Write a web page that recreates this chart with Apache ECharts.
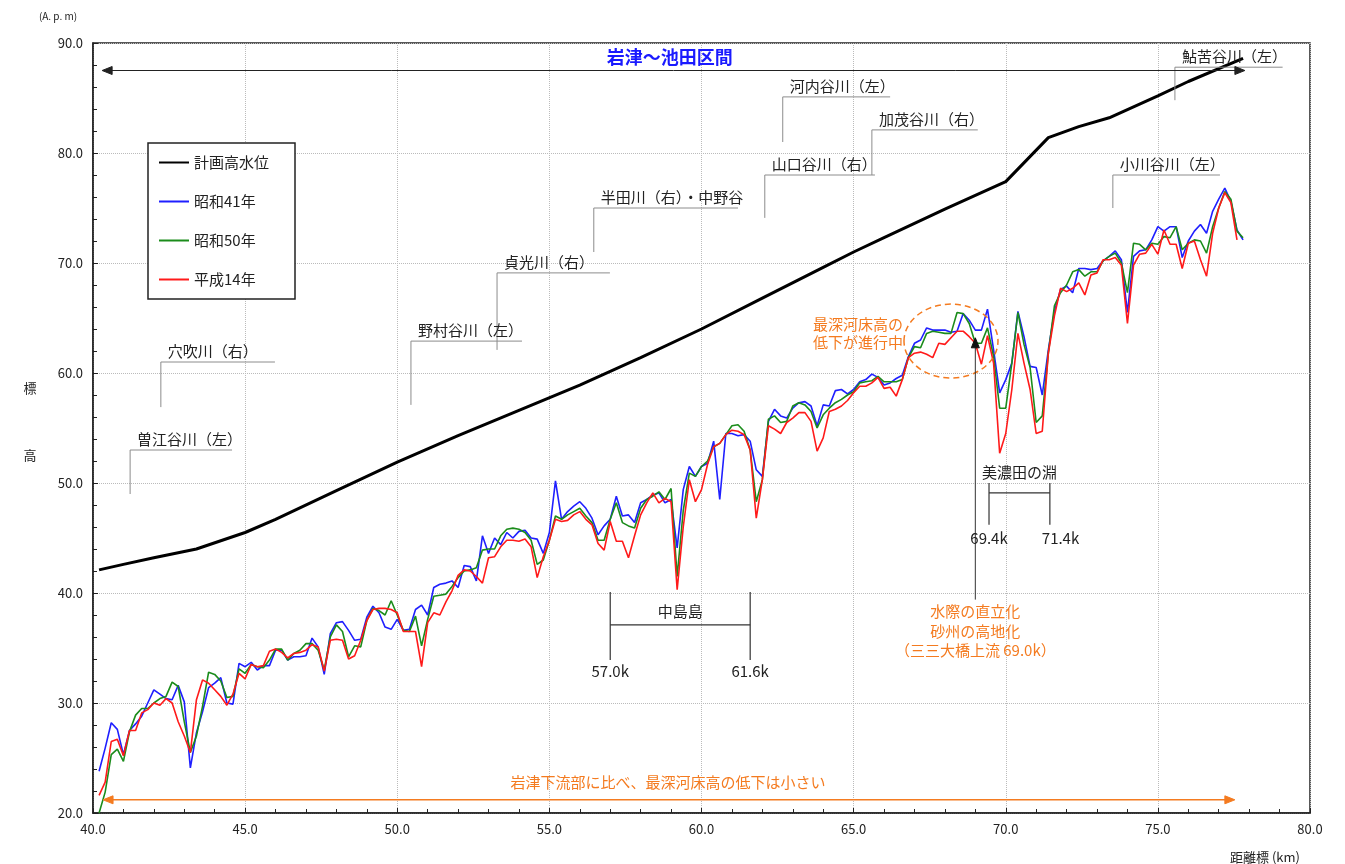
<!DOCTYPE html>
<html>
<head>
<meta charset="utf-8">
<title>岩津～池田区間 最深河床高縦断図</title>
<script src="https://cdn.jsdelivr.net/npm/echarts/dist/echarts.min.js"></script>
<style>
  html, body { margin: 0; padding: 0; background: #fff; }
  #main { width: 1345px; height: 864px; }
</style>
</head>
<body>
<div id="main"></div>
<script>
// 距離標 (km)
const distances = [
  40.2, 40.4, 40.6, 40.8, 41.0, 41.2, 41.4, 41.6, 41.8, 42.0,
  42.2, 42.4, 42.6, 42.8, 43.0, 43.2, 43.4, 43.6, 43.8, 44.0,
  44.2, 44.4, 44.6, 44.8, 45.0, 45.2, 45.4, 45.6, 45.8, 46.0,
  46.2, 46.4, 46.6, 46.8, 47.0, 47.2, 47.4, 47.6, 47.8, 48.0,
  48.2, 48.4, 48.6, 48.8, 49.0, 49.2, 49.4, 49.6, 49.8, 50.0,
  50.2, 50.4, 50.6, 50.8, 51.0, 51.2, 51.4, 51.6, 51.8, 52.0,
  52.2, 52.4, 52.6, 52.8, 53.0, 53.2, 53.4, 53.6, 53.8, 54.0,
  54.2, 54.4, 54.6, 54.8, 55.0, 55.2, 55.4, 55.6, 55.8, 56.0,
  56.2, 56.4, 56.6, 56.8, 57.0, 57.2, 57.4, 57.6, 57.8, 58.0,
  58.2, 58.4, 58.6, 58.8, 59.0, 59.2, 59.4, 59.6, 59.8, 60.0,
  60.2, 60.4, 60.6, 60.8, 61.0, 61.2, 61.4, 61.6, 61.8, 62.0,
  62.2, 62.4, 62.6, 62.8, 63.0, 63.2, 63.4, 63.6, 63.8, 64.0,
  64.2, 64.4, 64.6, 64.8, 65.0, 65.2, 65.4, 65.6, 65.8, 66.0,
  66.2, 66.4, 66.6, 66.8, 67.0, 67.2, 67.4, 67.6, 67.8, 68.0,
  68.2, 68.4, 68.6, 68.8, 69.0, 69.2, 69.4, 69.6, 69.8, 70.0,
  70.2, 70.4, 70.6, 70.8, 71.0, 71.2, 71.4, 71.6, 71.8, 72.0,
  72.2, 72.4, 72.6, 72.8, 73.0, 73.2, 73.4, 73.6, 73.8, 74.0,
  74.2, 74.4, 74.6, 74.8, 75.0, 75.2, 75.4, 75.6, 75.8, 76.0,
  76.2, 76.4, 76.6, 76.8, 77.0, 77.2, 77.4, 77.6, 77.8
];

// 昭和41年 最深河床高
const showa41 = [
  23.8, 25.9, 28.2, 27.6, 25.3, 27.5, 28.1, 28.8, 30.0, 31.2,
  30.8, 30.4, 30.3, 31.6, 30.1, 24.1, 27.3, 29.2, 31.4, 31.8,
  32.3, 30.0, 29.9, 33.6, 33.3, 33.7, 33.0, 33.4, 33.4, 34.8,
  34.8, 33.9, 34.2, 34.2, 34.3, 35.9, 35.1, 32.6, 36.3, 37.3,
  37.4, 36.6, 35.7, 35.8, 37.8, 38.8, 38.2, 36.9, 36.7, 37.6,
  36.6, 36.7, 38.5, 38.9, 38.0, 40.5, 40.8, 40.9, 41.1, 40.5,
  42.5, 42.4, 41.1, 45.2, 43.6, 45.0, 44.4, 45.5, 45.0, 45.6,
  45.7, 45.0, 44.9, 43.6, 45.5, 50.2, 46.7, 47.4, 47.9, 48.3,
  47.7, 46.8, 45.3, 46.1, 46.7, 48.8, 47.0, 47.1, 46.4, 48.2,
  48.5, 48.9, 49.1, 48.2, 48.5, 44.1, 49.4, 51.5, 50.6, 51.5,
  51.8, 53.8, 48.5, 54.5, 54.5, 54.3, 54.4, 53.8, 51.2, 50.6,
  55.6, 56.7, 56.1, 55.9, 56.8, 57.3, 57.4, 57.0, 55.2, 57.1,
  57.0, 58.4, 58.5, 58.1, 58.5, 59.2, 59.4, 59.9, 59.6, 58.9,
  59.1, 59.5, 59.8, 61.5, 62.7, 63.0, 64.1, 63.9, 63.9, 63.9,
  63.7, 63.8, 65.4, 64.8, 63.9, 63.9, 65.8, 62.1, 58.2, 59.4,
  60.9, 65.6, 63.3, 60.6, 60.5, 58.0, 62.1, 65.6, 67.6, 67.9,
  67.3, 69.5, 69.5, 69.4, 69.5, 70.2, 70.6, 71.1, 70.3, 65.5,
  70.6, 71.1, 71.2, 72.1, 73.3, 72.9, 73.3, 73.3, 70.5, 72.0,
  72.9, 73.5, 72.7, 74.7, 75.8, 76.8, 75.6, 73.0, 72.1
];

// 昭和50年 最深河床高
const showa50 = [
  20.0, 21.9, 25.3, 25.8, 24.7, 27.4, 28.9, 29.5, 29.5, 30.0,
  30.4, 30.6, 31.9, 31.5, 28.3, 25.5, 27.0, 29.7, 32.8, 32.6,
  32.0, 30.5, 30.6, 33.1, 32.7, 33.5, 33.3, 33.2, 33.9, 34.9,
  34.9, 33.9, 34.5, 34.8, 35.4, 35.4, 34.8, 33.0, 36.0, 37.1,
  36.5, 34.2, 35.2, 35.1, 37.5, 38.6, 38.4, 38.0, 39.3, 38.0,
  36.6, 36.5, 37.9, 35.2, 37.6, 39.7, 39.8, 39.9, 40.6, 41.4,
  42.0, 42.1, 42.3, 43.9, 44.0, 44.0, 45.2, 45.8, 45.9, 45.8,
  45.5, 44.8, 42.6, 43.0, 44.8, 47.0, 46.7, 47.1, 47.4, 47.7,
  47.0, 46.4, 44.8, 44.8, 46.7, 48.2, 46.4, 46.1, 45.9, 47.7,
  48.5, 48.8, 49.2, 48.5, 49.5, 41.5, 47.5, 50.9, 50.6, 51.5,
  52.0, 53.3, 53.6, 54.4, 55.2, 55.3, 54.7, 53.0, 48.3, 50.3,
  55.8, 56.1, 55.5, 55.6, 57.0, 57.3, 57.1, 56.5, 55.0, 56.2,
  56.8, 57.3, 57.6, 58.0, 58.3, 59.1, 59.2, 59.3, 59.7, 59.2,
  59.2, 59.2, 59.4, 61.4, 62.4, 62.3, 63.6, 63.8, 63.7, 63.6,
  63.6, 65.5, 65.4, 64.5, 62.7, 62.7, 64.1, 61.5, 56.8, 56.8,
  60.9, 65.5, 62.6, 60.5, 55.5, 56.1, 61.8, 66.1, 67.3, 68.0,
  69.2, 69.4, 68.8, 69.2, 69.2, 70.2, 70.6, 70.9, 70.0, 67.3,
  71.8, 71.7, 71.2, 71.8, 71.7, 72.4, 72.3, 73.3, 71.2, 71.8,
  72.1, 72.0, 70.9, 73.3, 75.0, 76.5, 75.8, 72.9, 72.3
];

// 平成14年 最深河床高
const heisei14 = [
  21.6, 22.8, 26.5, 26.7, 25.2, 27.5, 27.5, 29.1, 29.4, 30.0,
  29.8, 30.4, 30.0, 28.3, 27.0, 25.5, 30.3, 32.1, 31.8, 31.2,
  30.6, 29.8, 30.8, 32.7, 32.2, 33.5, 33.3, 33.4, 34.7, 34.9,
  34.6, 34.1, 34.5, 34.6, 34.8, 35.3, 35.1, 32.9, 35.7, 35.8,
  35.7, 34.0, 34.3, 35.7, 37.5, 38.5, 38.6, 38.6, 38.5, 38.2,
  36.5, 36.5, 36.5, 33.3, 37.3, 38.2, 38.0, 39.2, 40.2, 41.6,
  42.1, 42.0, 41.5, 40.9, 43.2, 43.3, 44.2, 44.8, 44.8, 44.7,
  44.9, 44.2, 41.4, 43.3, 44.8, 46.7, 46.5, 46.6, 47.1, 47.4,
  46.7, 46.2, 44.5, 43.9, 46.5, 44.7, 44.7, 43.2, 45.2, 47.1,
  48.2, 49.1, 48.2, 48.6, 48.3, 40.3, 46.0, 50.3, 48.3, 49.4,
  51.7, 53.3, 53.6, 54.4, 54.8, 54.7, 54.4, 53.0, 46.8, 50.3,
  55.2, 54.9, 54.5, 55.5, 55.9, 56.4, 56.4, 55.6, 52.9, 54.1,
  56.5, 56.7, 57.0, 57.5, 58.2, 58.8, 58.8, 59.1, 59.6, 58.6,
  58.7, 57.9, 59.4, 61.4, 61.8, 61.9, 61.7, 61.4, 62.7, 62.6,
  63.2, 63.8, 63.8, 63.3, 62.7, 60.8, 63.4, 60.9, 52.7, 54.5,
  58.5, 63.6, 60.9, 58.5, 54.5, 54.7, 61.8, 65.2, 67.7, 67.4,
  67.7, 68.2, 67.1, 68.9, 69.1, 70.3, 70.3, 70.5, 69.8, 64.5,
  69.8, 70.8, 70.9, 71.7, 70.8, 73.0, 71.7, 71.7, 69.5, 71.8,
  72.0, 70.3, 68.8, 72.7, 75.0, 76.4, 75.5, 72.1, null
];

// 計画高水位
const planKm = [40.2, 41.0, 42.0, 43.4, 45.0, 46.0, 48.0, 50.0, 52.0, 54.0, 56.0, 58.0, 60.0,
  62.0, 64.0, 65.0, 66.0, 68.0, 70.0, 71.4, 72.4, 73.4, 75.0, 76.0, 77.8];
const planLevel = [42.1, 42.6, 43.2, 44.0, 45.5, 46.7, 49.3, 51.9, 54.3, 56.6, 58.9, 61.4, 64.0,
  66.8, 69.6, 71.0, 72.3, 74.9, 77.4, 81.4, 82.4, 83.2, 85.2, 86.5, 88.6];

const FONT = '"Noto Sans CJK JP", "Noto Sans", sans-serif';
const ORANGE = '#f47b20';

const pairs = (xs, ys) => xs.map((x, i) => [x, ys[i]]);

const chart = echarts.init(document.getElementById('main'));

const option = {
  backgroundColor: '#fff',
  textStyle: { fontFamily: FONT },
  animation: false,
  grid: {
    left: 93, right: 35, top: 43, bottom: 51,
    show: true, borderColor: '#222', borderWidth: 1.5, backgroundColor: 'transparent'
  },
  legend: {
    orient: 'vertical',
    left: 148, top: 143,
    padding: [12, 26, 12, 10],
    itemGap: 24,
    itemWidth: 30, itemHeight: 14,
    borderColor: '#222', borderWidth: 1.5,
    backgroundColor: '#fff',
    // 凡例は線のみ（マーカーなし）
    itemStyle: { opacity: 0 },
    textStyle: { fontSize: 15, color: '#222', fontFamily: FONT },
    data: ['計画高水位', '昭和41年', '昭和50年', '平成14年']
  },
  xAxis: {
    type: 'value', min: 40, max: 80, interval: 5,
    axisLine: { lineStyle: { color: '#222', width: 1.5 } },
    axisTick: { inside: true, length: 5, lineStyle: { color: '#222' } },
    minorTick: { show: true, splitNumber: 5, length: 4, lineStyle: { color: '#222' } },
    splitLine: { show: true, lineStyle: { color: '#bbb', type: 'dotted' } },
    axisLabel: { formatter: v => v.toFixed(1), fontSize: 13, color: '#222', margin: 10, fontFamily: FONT }
  },
  yAxis: {
    type: 'value', min: 20, max: 90, interval: 10,
    axisLine: { show: true, lineStyle: { color: '#222', width: 1.5 } },
    axisTick: { show: true, inside: true, length: 5, lineStyle: { color: '#222' } },
    minorTick: { show: true, splitNumber: 5, length: 4, lineStyle: { color: '#222' } },
    splitLine: { show: true, lineStyle: { color: '#bbb', type: 'dotted' } },
    axisLabel: { formatter: v => v.toFixed(1), fontSize: 13, color: '#222', margin: 10, fontFamily: FONT }
  },
  series: [
    {
      name: '計画高水位', type: 'line', symbol: 'none',
      data: pairs(planKm, planLevel),
      lineStyle: { color: '#000', width: 3 }, itemStyle: { color: '#000' }
    },
    {
      name: '昭和41年', type: 'line', symbol: 'none',
      data: pairs(distances, showa41),
      lineStyle: { color: '#1f1fff', width: 1.6 }, itemStyle: { color: '#1f1fff' }
    },
    {
      name: '昭和50年', type: 'line', symbol: 'none',
      data: pairs(distances, showa50),
      lineStyle: { color: '#1b8c1b', width: 1.6 }, itemStyle: { color: '#1b8c1b' }
    },
    {
      name: '平成14年', type: 'line', symbol: 'none', connectNulls: false,
      data: pairs(distances, heisei14),
      lineStyle: { color: '#ff1a1a', width: 1.6 }, itemStyle: { color: '#ff1a1a' }
    }
  ]
};

chart.setOption(option);

// 注記（データ座標で配置）
const tributaries = [
  { name: '曽江谷川（左）', km: 41.22, top: 53.0, bottom: 49.0, end: 44.57 },
  { name: '穴吹川（右）', km: 42.23, top: 61.0, bottom: 56.9, end: 45.98 },
  { name: '野村谷川（左）', km: 50.45, top: 62.9, bottom: 57.1, end: 54.1 },
  { name: '貞光川（右）', km: 53.28, top: 69.1, bottom: 62.1, end: 56.99 },
  { name: '半田川（右）・中野谷', km: 56.46, top: 75.0, bottom: 71.0, end: 61.2 },
  { name: '山口谷川（右）', km: 62.08, top: 78.0, bottom: 74.1, end: 65.7 },
  { name: '河内谷川（左）', km: 62.67, top: 85.1, bottom: 81.0, end: 66.2 },
  { name: '加茂谷川（右）', km: 65.6, top: 82.1, bottom: 78.0, end: 69.08 },
  { name: '小川谷川（左）', km: 73.52, top: 78.0, bottom: 75.0, end: 77.04 },
  { name: '鮎苦谷川（左）', km: 75.56, top: 87.8, bottom: 84.8, end: 79.1 }
];

const P = (x, y) => chart.convertToPixel({ gridIndex: 0 }, [x, y]);
const g = [];

function poly(points, stroke, width, dash) {
  g.push({
    type: 'polyline', silent: true, z: 100,
    shape: { points },
    style: { stroke, lineWidth: width, fill: null, lineDash: dash || null }
  });
}
function label(str, pos, opt) {
  opt = opt || {};
  g.push({
    type: 'text', silent: true, z: 101,
    x: pos[0], y: pos[1],
    style: {
      text: str,
      fill: opt.color || '#222',
      fontSize: opt.size || 15,
      fontWeight: opt.weight || 'normal',
      fontFamily: FONT,
      align: opt.align || 'center', textAlign: opt.align || 'center',
      verticalAlign: opt.va || 'middle', textVerticalAlign: opt.va || 'middle'
    }
  });
}
function head(tip, dir, color) {
  const L = 10, W = 4;
  const [x, y] = tip;
  let pts;
  if (dir === 'left') pts = [[x, y], [x + L, y - W], [x + L, y + W]];
  else if (dir === 'right') pts = [[x, y], [x - L, y - W], [x - L, y + W]];
  else pts = [[x, y], [x - W, y + L], [x + W, y + L]];
  g.push({ type: 'polygon', silent: true, z: 101, shape: { points: pts }, style: { fill: color, stroke: color } });
}

// 支川の引出線
tributaries.forEach(t => {
  const c = P(t.km, t.top);
  const b = P(t.km, t.bottom);
  const e = P(t.end, t.top);
  poly([b, c, e], '#8c8c8c', 1);
  label(t.name, [c[0] + 7, c[1] - 3], { align: 'left', va: 'bottom', size: 15 });
});

// 岩津～池田区間
const ta = P(40.3, 87.5), tb = P(77.86, 87.5);
poly([[ta[0] + 8, ta[1]], [tb[0] - 8, tb[1]]], '#222', 1);
head(ta, 'left', '#222');
head(tb, 'right', '#222');
label('岩津～池田区間', P(58.96, 88.75), { color: '#1a1aff', size: 18, weight: 'bold' });

// 下流部との比較
const oa = P(40.33, 21.2), ob = P(77.53, 21.2);
poly([[oa[0] + 8, oa[1]], [ob[0] - 8, ob[1]]], ORANGE, 1.5);
head(oa, 'left', ORANGE);
head(ob, 'right', ORANGE);
label('岩津下流部に比べ、最深河床高の低下は小さい', P(58.9, 22.75), { color: ORANGE, size: 15 });

// 中島島
const n1t = P(57.0, 40.1), n1b = P(57.0, 33.9), n2t = P(61.6, 40.1), n2b = P(61.6, 33.9);
poly([n1t, n1b], '#333', 1.2);
poly([n2t, n2b], '#333', 1.2);
poly([P(57.0, 37.1), P(61.6, 37.1)], '#333', 1.2);
label('中島島', P(59.3, 38.35), { size: 15 });
label('57.0k', P(57.0, 32.9), { size: 15 });
label('61.6k', P(61.6, 32.9), { size: 15 });

// 美濃田の淵
poly([P(69.45, 50.0), P(69.45, 46.2)], '#333', 1.2);
poly([P(71.45, 50.0), P(71.45, 46.2)], '#333', 1.2);
poly([P(69.45, 49.1), P(71.45, 49.1)], '#333', 1.2);
label('美濃田の淵', P(70.45, 51.0), { size: 15 });
label('69.4k', P(69.45, 45.0), { size: 15 });
label('71.4k', P(71.8, 45.0), { size: 15 });

// 最深河床高の低下が進行中
const ec = P(68.2, 62.9);
g.push({
  type: 'ellipse', silent: true, z: 100,
  shape: { cx: ec[0], cy: ec[1], rx: 47, ry: 37 },
  style: { stroke: ORANGE, lineWidth: 1.5, fill: null, lineDash: [6, 4] }
});
label('最深河床高の', P(66.62, 64.45), { color: ORANGE, align: 'right', size: 15 });
label('低下が進行中', P(66.62, 62.8), { color: ORANGE, align: 'right', size: 15 });

// 三三大橋上流 69.0k
const ar1 = P(69.0, 39.4), ar2 = P(69.0, 63.2);
poly([ar1, [ar2[0], ar2[1] + 8]], '#333', 1);
head(ar2, 'up', '#111');
label('水際の直立化', P(69.0, 38.3), { color: ORANGE, size: 15 });
label('砂州の高地化', P(69.0, 36.5), { color: ORANGE, size: 15 });
label('（三三大橋上流 69.0k）', P(69.0, 34.75), { color: ORANGE, size: 15 });

// 軸の名称
label('(A. p. m)', [58, 16], { size: 10 });
label('標', [30, 388], { size: 13 });
label('高', [30, 455], { size: 13 });
label('距離標 (km)', [1265, 857], { size: 13 });

chart.setOption({ graphic: { elements: g } });
</script>
</body>
</html>
